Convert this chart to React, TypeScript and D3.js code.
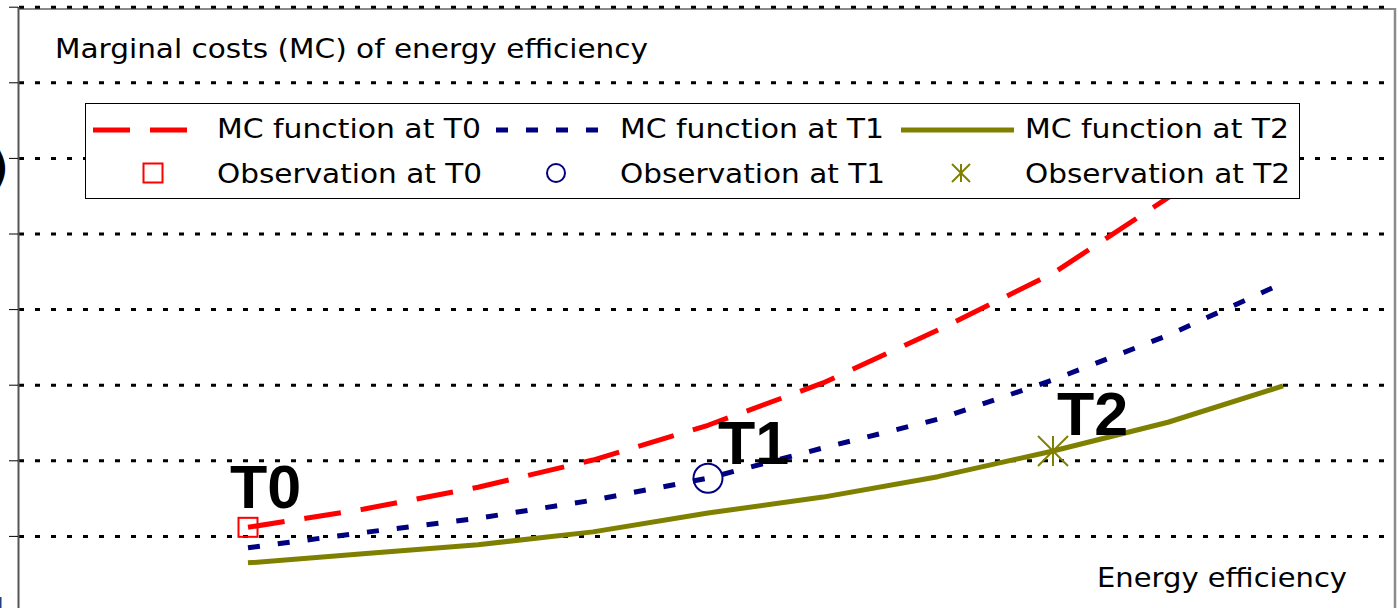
import React from "react";
import * as d3 from "d3";

// ---- data ----
const xValues = [2, 3, 4, 5, 6, 7, 8, 9, 10, 11];
const mcT0 = [1.12, 1.36, 1.65, 2.01, 2.47, 3.03, 3.73, 4.48, 5.48, 6.65];
const mcT1 = [0.85, 1.05, 1.24, 1.48, 1.77, 2.17, 2.55, 3.07, 3.66, 4.35];
const mcT2 = [0.65, 0.77, 0.89, 1.06, 1.31, 1.52, 1.79, 2.13, 2.51, 2.99];
const obsLabels = ["T0", "T1", "T2"];
const obsX = [2, 6, 9];
const obsY = [1.12, 1.77, 2.13];
const gridValues = [1, 2, 3, 4, 5, 6, 7, 8];
const seriesNames = ["MC function at T0", "MC function at T1", "MC function at T2"];
const obsNames = ["Observation at T0", "Observation at T1", "Observation at T2"];
const yTitle = "Marginal costs (MC) of energy efficiency";
const xTitle = "Energy efficiency";

const W = 1398;
const H = 608;
const colors = ["#FF0000", "#000080", "#808000"];
const dashes = ["37,20", "12,18", null];
const FONT = "'DejaVu Sans', Verdana, sans-serif";

function Marker({ kind, cx, cy, big }: { kind: number; cx: number; cy: number; big: boolean }) {
  const c = colors[kind];
  if (kind === 0) {
    const s = 19;
    return <rect x={cx - s / 2} y={cy - s / 2} width={s} height={s} fill="none" stroke={c} strokeWidth={2} />;
  }
  if (kind === 1) {
    return <circle cx={cx} cy={cy} r={big ? 14.5 : 9} fill="none" stroke={c} strokeWidth={2} />;
  }
  const h = big ? 15 : 9;
  return (
    <g stroke={c} strokeWidth={2}>
      <line x1={cx} y1={cy - h} x2={cx} y2={cy + h} />
      <line x1={cx - h} y1={cy - h} x2={cx + h} y2={cy + h} />
      <line x1={cx - h} y1={cy + h} x2={cx + h} y2={cy - h} />
    </g>
  );
}

export default function App() {
  const x = d3.scaleLinear().domain([0, 12]).range([18, 1398]);
  const y = d3.scaleLinear().domain([0, 8]).range([612, 7.2]);
  const plotRight = 1395;
  const series = [mcT0, mcT1, mcT2];
  const line = d3
    .line<number>()
    .x((_, i) => x(xValues[i]))
    .y((d) => y(d));

  const labelOffsets = [
    [-18, -19],
    [10, -14],
    [4, -16],
  ];

  const legendTextX = [217, 620, 1025];
  const row1 = 130;
  const row2 = 175;

  return (
    <svg
      width={W}
      height={H}
      style={{ position: "absolute", left: 0, top: 0, background: "#fff" }}
      fontFamily={FONT}
    >
      <rect x={0} y={0} width={W} height={H} fill="#fff" />
      {/* plot frame */}
      <line x1={18} y1={9} x2={plotRight} y2={9} stroke="#8a8a8a" strokeWidth={2} />
      <line x1={plotRight} y1={8} x2={plotRight} y2={H} stroke="#8a8a8a" strokeWidth={2.5} />
      {/* gridlines */}
      {gridValues.map((v) => (
        <line
          key={"g" + v}
          x1={19}
          x2={plotRight}
          y1={y(v)}
          y2={y(v)}
          stroke="#000"
          strokeWidth={3}
          strokeDasharray="5,11"
        />
      ))}
      {/* y axis */}
      <line x1={18.5} y1={7} x2={18.5} y2={H} stroke="#555" strokeWidth={2} />
      {gridValues.map((v) => (
        <line key={"t" + v} x1={9} x2={18} y1={y(v)} y2={y(v)} stroke="#000" strokeWidth={1} />
      ))}
      {/* clipped fragment of rotated axis label */}
      <text x={9} y={183} fontSize={46} fontWeight="bold" textAnchor="end" fill="#000" fontFamily={FONT}>
        )
      </text>
      <rect x={0} y={597} width={1.5} height={11} fill="#1f3f7f" />

      {/* titles */}
      <text x={55} y={58} fontSize={27} textLength={593} lengthAdjust="spacingAndGlyphs" fill="#000">
        {yTitle}
      </text>
      <text x={1097} y={587} fontSize={27} textLength={250} lengthAdjust="spacingAndGlyphs" fill="#000">
        {xTitle}
      </text>

      {/* curves */}
      {series.map((s, i) => (
        <path
          key={"s" + i}
          d={line(s) || ""}
          fill="none"
          stroke={colors[i]}
          strokeWidth={5}
          strokeDasharray={dashes[i] || undefined}
          strokeLinejoin="round"
        />
      ))}

      {/* observations */}
      {obsX.map((ox, i) => (
        <Marker key={"m" + i} kind={i} cx={x(ox)} cy={y(obsY[i])} big={true} />
      ))}
      {obsX.map((ox, i) => (
        <text
          key={"l" + i}
          x={x(ox) + labelOffsets[i][0]}
          y={y(obsY[i]) + labelOffsets[i][1]}
          fontSize={61}
          fontWeight="bold"
          fontFamily="'Liberation Sans', Arial, sans-serif"
          fill="#000"
        >
          {obsLabels[i]}
        </text>
      ))}

      {/* legend */}
      <rect x={85.5} y={103.5} width={1214} height={95} fill="#fff" stroke="#000" strokeWidth={1} />
      {seriesNames.map((name, i) => {
        const tx = legendTextX[i];
        return (
          <g key={"lg" + i}>
            <line
              x1={tx - 124}
              x2={tx - 11}
              y1={row1}
              y2={row1}
              stroke={colors[i]}
              strokeWidth={5}
              strokeDasharray={dashes[i] || undefined}
            />
            <text x={tx} y={row1 + 8} fontSize={26} textLength={264} lengthAdjust="spacingAndGlyphs" fill="#000">
              {name}
            </text>
            <Marker kind={i} cx={tx - 64} cy={row2 - 2} big={false} />
            <text x={tx} y={row2 + 8} fontSize={26} textLength={265} lengthAdjust="spacingAndGlyphs" fill="#000">
              {obsNames[i]}
            </text>
          </g>
        );
      })}
    </svg>
  );
}
